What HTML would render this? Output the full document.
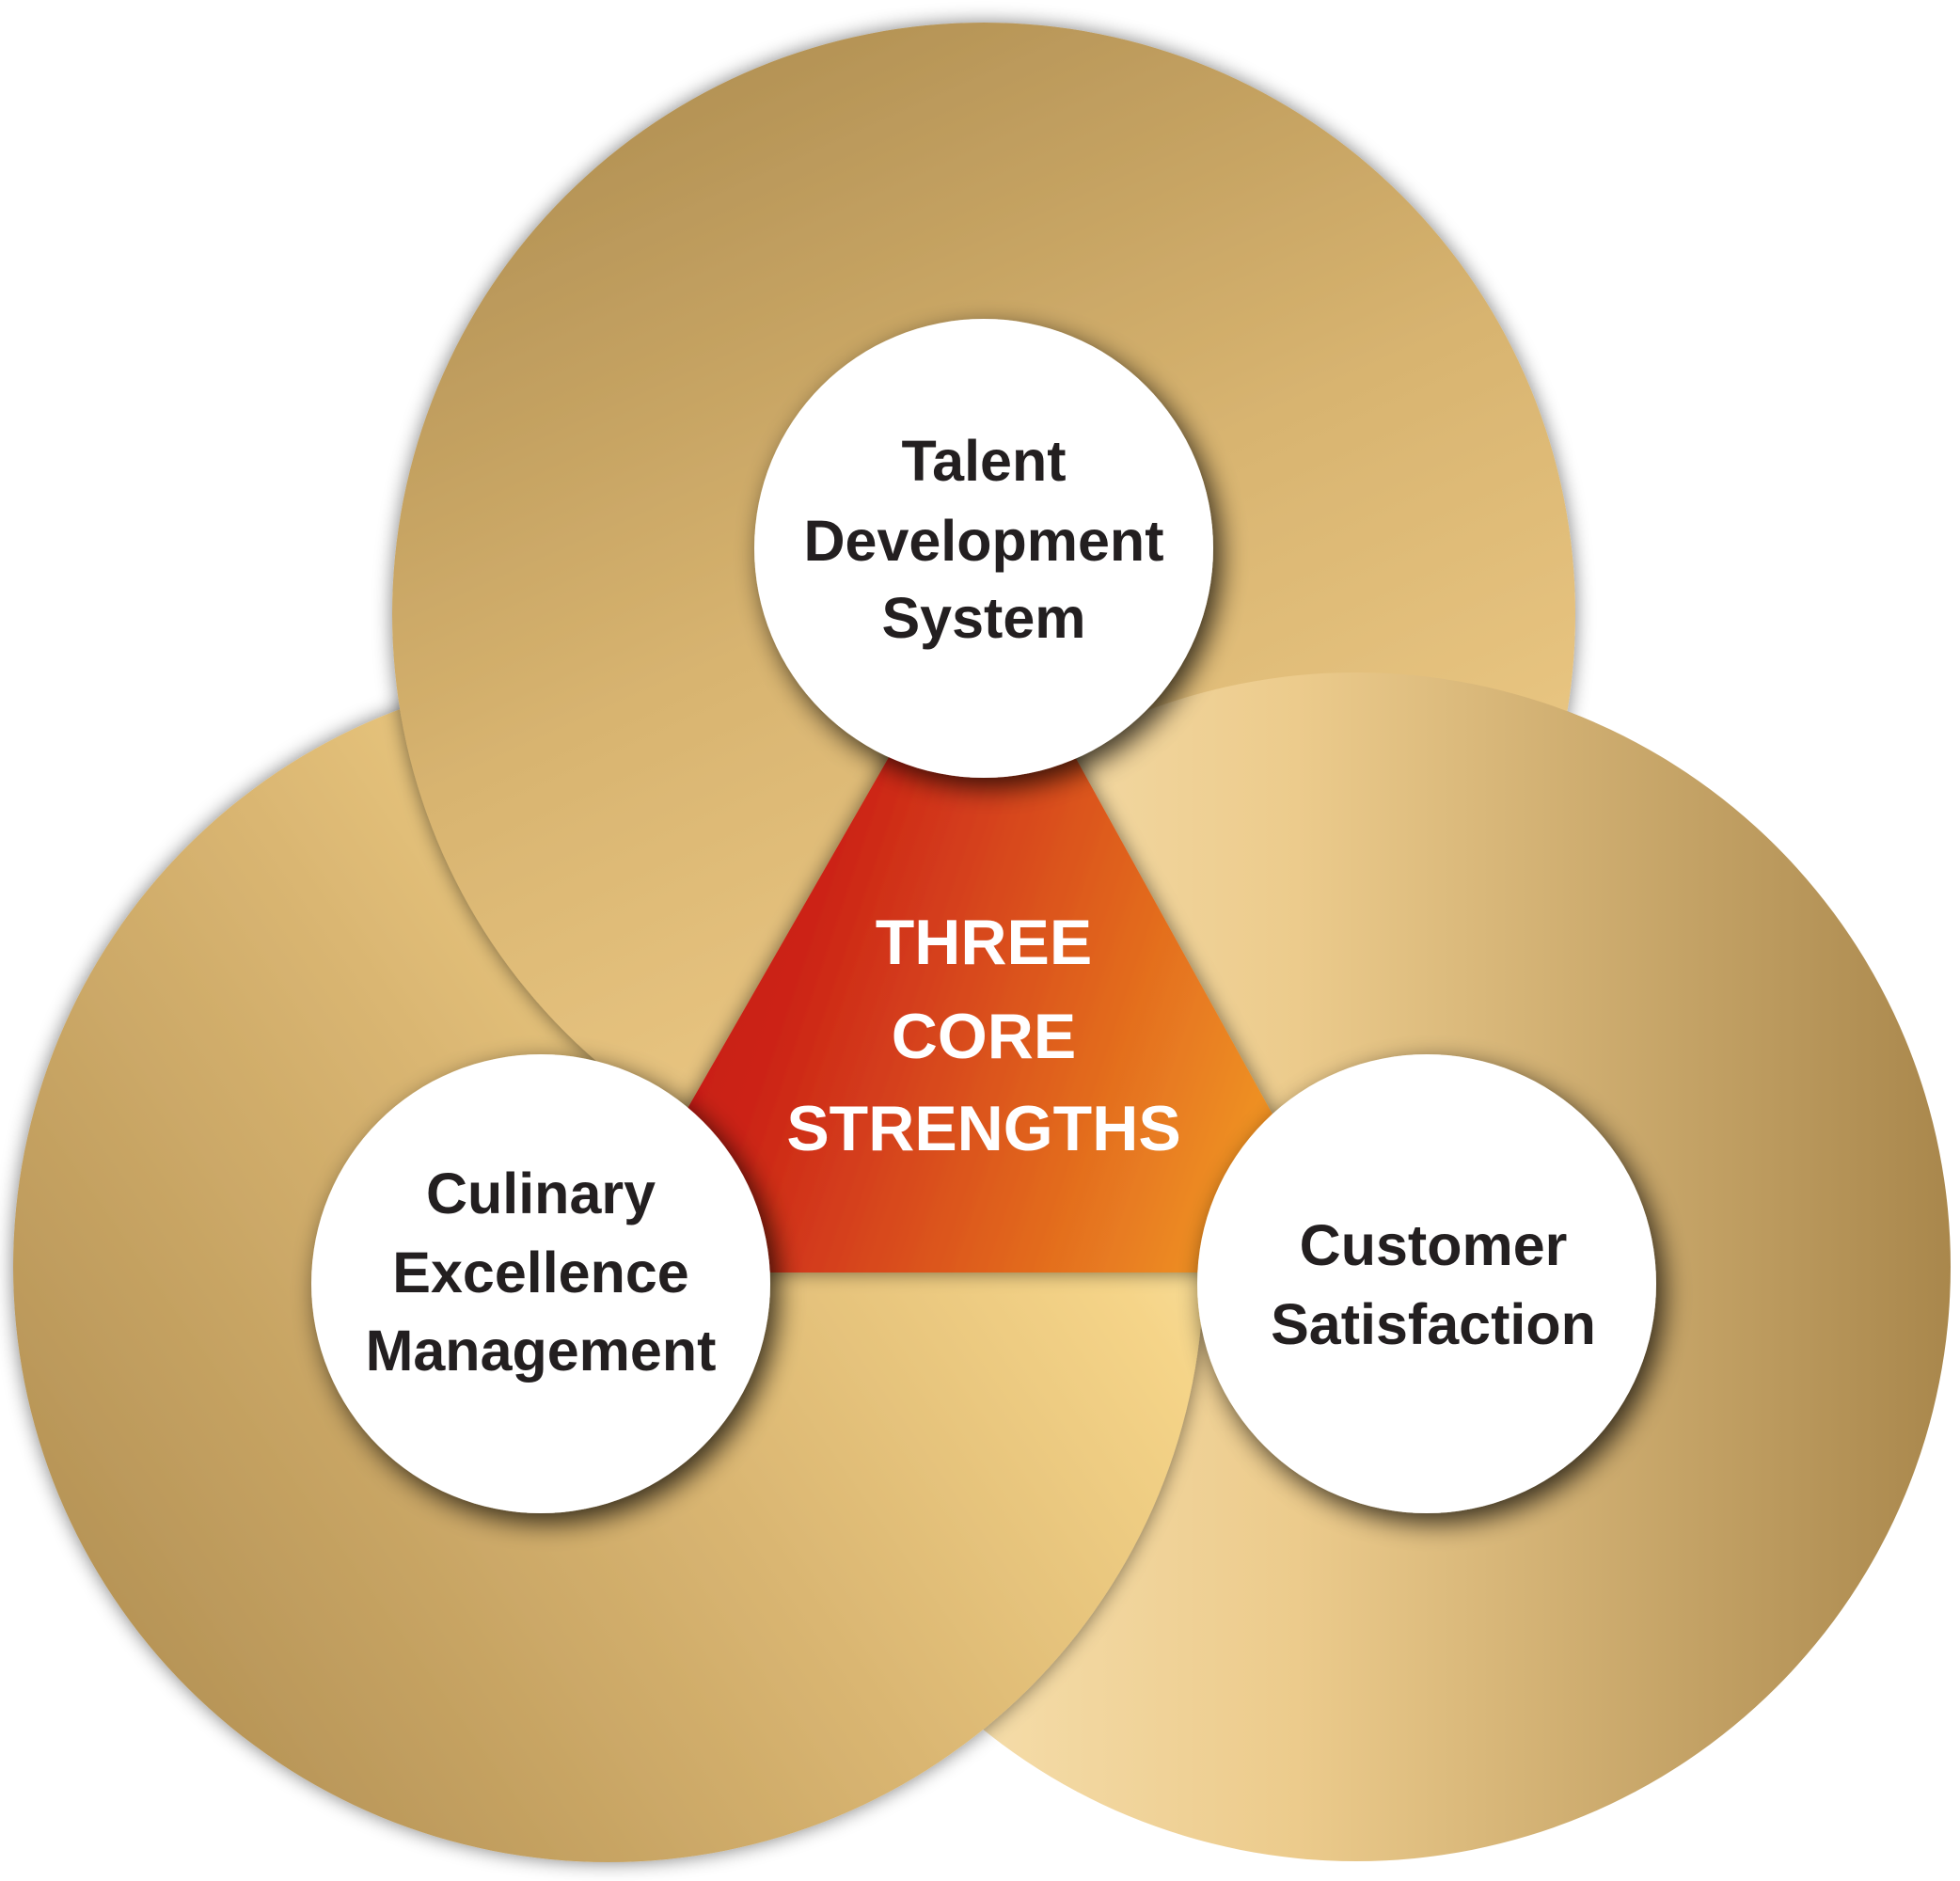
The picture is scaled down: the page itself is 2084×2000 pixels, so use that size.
<!DOCTYPE html>
<html><head><meta charset="utf-8"><style>
html,body{margin:0;padding:0;background:#fff;}
svg{display:block;}
text{font-family:"Liberation Sans",sans-serif;font-weight:bold;text-anchor:middle;}
</style></head><body>
<svg width="2084" height="2000" viewBox="0 0 2084 2000" xmlns="http://www.w3.org/2000/svg">
<defs>
<linearGradient id="gTop" x1="0.15" y1="0" x2="0.6" y2="1">
<stop offset="0" stop-color="#ad8c50"/><stop offset="0.5" stop-color="#d8b470"/><stop offset="1" stop-color="#f2cf8b"/>
</linearGradient>
<linearGradient id="gLeft" x1="0" y1="1" x2="1" y2="0.3">
<stop offset="0" stop-color="#a9874c"/><stop offset="0.55" stop-color="#dab672"/><stop offset="0.85" stop-color="#f5d488"/><stop offset="1" stop-color="#fbe7a8"/>
</linearGradient>
<linearGradient id="gRight" x1="0" y1="0" x2="1" y2="0">
<stop offset="0" stop-color="#fbe8bc"/><stop offset="0.45" stop-color="#eccb8c"/><stop offset="1" stop-color="#a9874c"/>
</linearGradient>
<linearGradient id="gTri" x1="0" y1="0" x2="1" y2="0.3">
<stop offset="0" stop-color="#c00812"/><stop offset="0.4" stop-color="#cc2418"/><stop offset="1" stop-color="#ee8f22"/>
</linearGradient>
<clipPath id="cTop"><circle cx="1046" cy="653" r="660"/></clipPath>
<filter id="sh" x="-30%" y="-30%" width="160%" height="160%">
<feGaussianBlur in="SourceAlpha" stdDeviation="14"/><feOffset dx="8" dy="10"/>
<feComponentTransfer><feFuncA type="linear" slope="0.75"/></feComponentTransfer>
<feMerge><feMergeNode/><feMergeNode in="SourceGraphic"/></feMerge>
</filter>
<filter id="sh2" x="-30%" y="-30%" width="160%" height="160%">
<feGaussianBlur in="SourceAlpha" stdDeviation="10"/><feOffset dx="0" dy="0"/>
<feComponentTransfer><feFuncA type="linear" slope="0.5"/></feComponentTransfer>
<feMerge><feMergeNode/><feMergeNode in="SourceGraphic"/></feMerge>
</filter>
</defs>
<circle cx="1442" cy="1347" r="632" fill="url(#gRight)"/>
<circle cx="647" cy="1347" r="633" fill="url(#gLeft)" filter="url(#sh2)"/>
<circle cx="1046" cy="653" r="629" fill="url(#gTop)" filter="url(#sh2)"/>
<g clip-path="url(#cTop)"><circle cx="1442" cy="1347" r="632" fill="url(#gRight)"/></g>
<polygon points="1046,629 631,1353 1446,1353" fill="url(#gTri)" filter="url(#sh2)"/>
<text x="1046" y="1025" font-size="68" fill="#fff">THREE</text>
<text x="1046" y="1125" font-size="68" fill="#fff">CORE</text>
<text x="1046" y="1223" font-size="68" fill="#fff">STRENGTHS</text>
<circle cx="1046" cy="583" r="244" fill="#fff" filter="url(#sh)"/>
<circle cx="575" cy="1365" r="244" fill="#fff" filter="url(#sh)"/>
<circle cx="1517" cy="1365" r="244" fill="#fff" filter="url(#sh)"/>
<g fill="#231f20" font-size="61">
<text x="1046" y="511">Talent</text>
<text x="1046" y="596">Development</text>
<text x="1046" y="678">System</text>
<text x="575" y="1290">Culinary</text>
<text x="575" y="1374">Excellence</text>
<text x="575" y="1457">Management</text>
<text x="1524" y="1345">Customer</text>
<text x="1524" y="1429">Satisfaction</text>
</g>
</svg>
</body></html>
